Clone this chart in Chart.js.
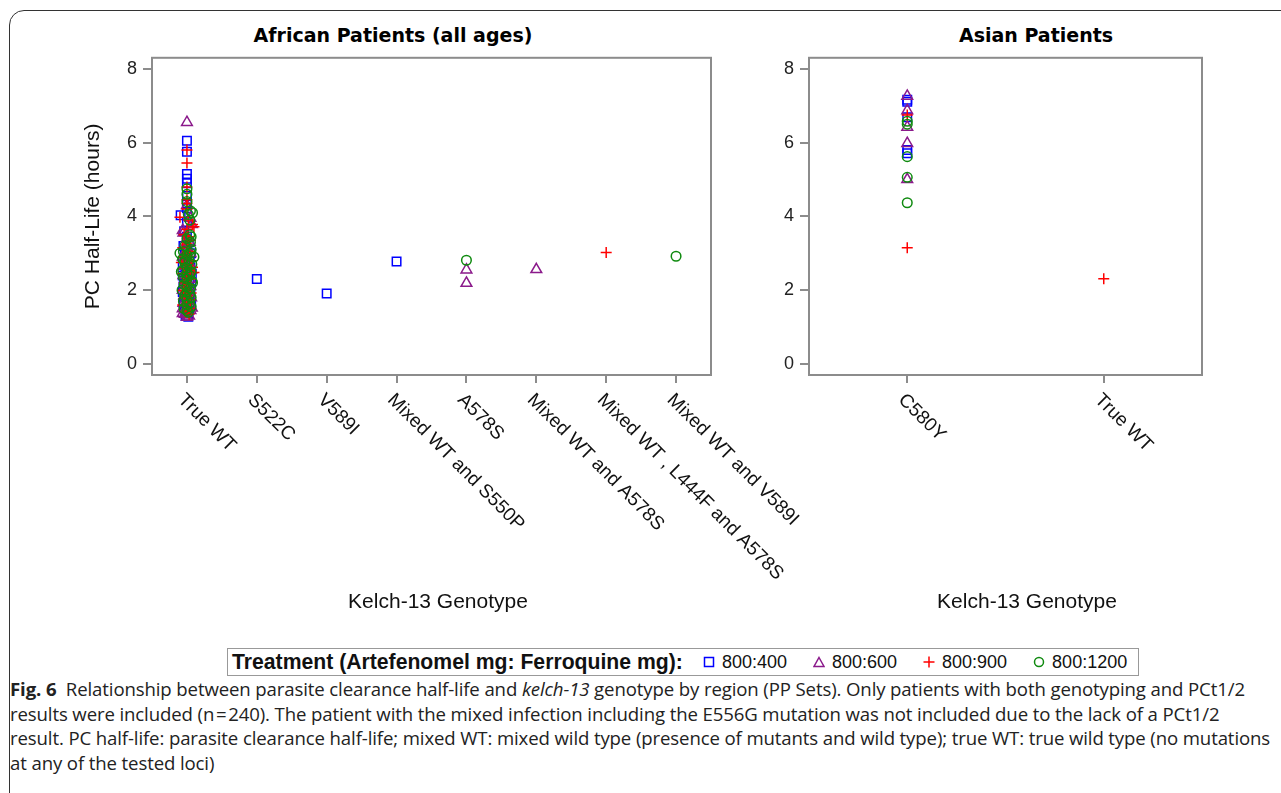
<!DOCTYPE html>
<html>
<head>
<meta charset="utf-8">
<script src="https://cdn.jsdelivr.net/npm/chart.js@4.4.1/dist/chart.umd.min.js"></script>
<style>
  body { margin: 0; width: 1281px; height: 793px; overflow: hidden; position: relative; background: #fff;
         font-family: "Liberation Sans", Arial, sans-serif; color: #111; }
  #box { position: absolute; left: 9px; top: 10px; width: 1320px; height: 840px; border: 1px solid #333; border-radius: 15px; }
  .ptitle { position: absolute; top: 24px; transform: translateX(-50%); white-space: nowrap;
            font-family: "DejaVu Sans", sans-serif; font-weight: 700; font-size: 19px; color: #000; }
  .xtitle { position: absolute; top: 589px; transform: translateX(-50%); white-space: nowrap; font-size: 21px; color: #111; }
  canvas { position: absolute; }
  #legend { position: absolute; left: 227px; top: 648px; width: 910px; height: 26px; border: 1.5px solid #999;
            display: flex; align-items: center; white-space: nowrap; font-size: 18px; }
  #legend b { font-size: 21.2px; margin-left: 4px; margin-right: 20px; }
  #legend svg { margin-right: 7px; }
  #legend span.item { margin-right: 26px; display: flex; align-items: center; }
  #caption { position: absolute; left: 10px; top: 677px; font-family: "Open Sans", sans-serif; font-size: 18.6px;
             line-height: 24.5px; color: #222; white-space: nowrap; letter-spacing: -0.12px; }
</style>
</head>
<body>
<div id="box"></div>
<div class="ptitle" style="left:393px">African Patients (all ages)</div>
<div class="ptitle" style="left:1036px">Asian Patients</div>
<canvas id="africa" width="740" height="569" style="left:60px; top:41px"></canvas>
<canvas id="asia" width="470" height="569" style="left:740px; top:41px"></canvas>
<div class="xtitle" style="left:438px">Kelch-13 Genotype</div>
<div class="xtitle" style="left:1027px">Kelch-13 Genotype</div>
<div id="legend"></div>
<div id="caption">
<b>Fig. 6</b>&nbsp; Relationship between parasite clearance half-life and <i>kelch-13</i> genotype by region (PP Sets). Only patients with both genotyping and PCt1/2<br>
results were included (n&#8202;=&#8202;240). The patient with the mixed infection including the E556G mutation was not included due to the lack of a PCt1/2<br>
result. PC half-life: parasite clearance half-life; mixed WT: mixed wild type (presence of mutants and wild type); true WT: true wild type (no mutations<br>
at any of the tested loci)
</div>
<script>
// categories
const africaGenotypes = ['True WT', 'S522C', 'V589I', 'Mixed WT and S550P', 'A578S',
    'Mixed WT and A578S', 'Mixed WT , L444F and A578S', 'Mixed WT and V589I'];
const asiaGenotypes = ['C580Y', 'True WT'];
const treatments = ['800:400', '800:600', '800:900', '800:1200'];
const yTicks = [0, 2, 4, 6, 8];

// [genotype index (with small jitter where points overlap), PC half-life in hours]
const africa400 = [[0,6.05],[0,5.75],[0,5.15],[0,5.02],[0,4.9],[0,4.55],[0,4.35],[0,4.22],[-0.09,4.03],[0,3.85],
    [-0.04,3.6],[0,3.45],[0.03,3.3],[-0.05,3.2],[0,3.1],[0.06,3.0],[-0.03,2.95],[0,2.85],[0.04,2.8],[-0.06,2.7],
    [0,2.65],[0.05,2.6],[-0.02,2.5],[0.07,2.45],[-0.06,2.4],[0,2.35],[0.03,2.3],[-0.04,2.25],[0.06,2.2],[0,2.15],
    [-0.05,2.1],[0.03,2.05],[0,2.0],[-0.06,1.95],[0.05,1.9],[0,1.85],[-0.03,1.8],[0.04,1.75],[0,1.7],[-0.05,1.65],
    [0.06,1.6],[0,1.55],[-0.03,1.5],[0.03,1.45],[0,1.38],[-0.02,1.3],[0.02,1.28],
    [1,2.30],[2,1.91],[3,2.78]];
const africa600 = [[0,6.55],[0,4.3],[0.05,3.95],[0.07,3.78],[-0.06,3.62],[-0.05,3.55],[0,3.4],[0.04,3.3],[-0.03,3.2],[0,3.1],
    [0.05,3.0],[-0.06,2.9],[0,2.8],[0.03,2.75],[-0.04,2.65],[0.06,2.55],[0,2.5],[-0.05,2.4],[0.04,2.3],[0,2.25],
    [-0.03,2.2],[0.05,2.1],[0,2.05],[-0.06,2.0],[0.03,1.95],[0,1.9],[-0.04,1.85],[0.06,1.8],[0,1.7],[-0.05,1.65],
    [0.04,1.6],[0,1.55],[-0.06,1.5],[0.05,1.45],[0,1.4],[-0.03,1.35],[0.03,1.3],[0,1.27],[-0.06,1.37],[0.07,1.52],
    [0.02,2.62],[-0.02,3.05],
    [4,2.55],[4,2.19],[5,2.56]];
const africa900 = [[0,5.8],[0,5.45],[0,4.8],[0,4.45],[0,4.35],[0,4.2],[-0.1,3.98],[0.02,3.9],[0.08,3.78],[0.1,3.72],
    [0,3.65],[-0.04,3.5],[0.05,3.35],[0,3.25],[-0.06,3.15],[0.04,3.05],[0,2.95],[-0.05,2.9],[0.06,2.8],[0,2.7],
    [-0.03,2.6],[0.04,2.55],[0.1,2.48],[-0.06,2.45],[0,2.35],[0.05,2.3],[-0.04,2.2],[0.03,2.15],[0,2.05],[-0.05,2.0],
    [0.06,1.92],[0,1.85],[-0.03,1.8],[0.04,1.75],[0,1.65],[-0.06,1.6],[0.05,1.5],[0,1.45],[-0.02,1.4],[0.03,1.35],
    [0.08,2.62],[-0.08,2.75],[0.02,3.45],[-0.02,1.95],
    [6,3.02]];
const africa1200 = [[0,4.75],[0,4.6],[0,4.4],[0.05,4.15],[0.08,4.1],[0.02,4.05],[0.04,3.9],[0.04,3.5],[0.06,3.45],[0,3.4],
    [0.05,3.3],[-0.03,3.2],[0.06,3.1],[-0.05,3.05],[-0.1,3.0],[0.05,3.0],[0,2.95],[0.1,2.9],[-0.06,2.85],[0.03,2.8],
    [-0.03,2.75],[0.07,2.7],[0,2.6],[-0.06,2.55],[-0.08,2.5],[0.06,2.5],[0,2.45],[0.04,2.4],[-0.05,2.35],[0,2.3],
    [0.07,2.25],[0.08,2.2],[-0.04,2.15],[0,2.1],[0.05,2.05],[-0.07,2.0],[0,1.95],[0.04,1.9],[-0.03,1.85],[0.06,1.8],
    [0,1.75],[-0.05,1.7],[0.04,1.65],[0,1.6],[0.06,1.55],[-0.04,1.5],[0,1.45],[0.02,1.4],
    [4,2.81],[7,2.92]];

const asia400 = [[0,7.16],[0,7.11],[0,6.69],[0,5.8],[0,5.71]];
const asia600 = [[0,7.26],[0,6.87],[0,6.42],[0,5.98],[0,5.0]];
const asia900 = [[0,6.75],[0,3.15],[1,2.31]];
const asia1200 = [[0,6.58],[0,6.5],[0,5.62],[0,5.06],[0,4.37]];

const colors = ['#0000ff', '#8b1a8b', '#ff0000', '#0f8a0f'];
const shapes = ['rect', 'triangle', 'cross', 'circle'];
const radii = [6, 6.2, 5.5, 4.8];
const drawOrder = [4, 3, 2, 1]; // lower = drawn on top

function toPoints(pairs) {
    return pairs.map(p => ({ x: p[0], y: p[1] }));
}

// draws the rotated genotype labels under each tick
const rotatedLabels = {
    id: 'rotatedLabels',
    afterDraw(chart, args, opts) {
        const ctx = chart.ctx;
        const xs = chart.scales.x;
        ctx.save();
        ctx.font = '19px "Liberation Sans", Arial, sans-serif';
        ctx.fillStyle = '#111';
        ctx.textAlign = 'left';
        ctx.textBaseline = 'middle';
        opts.labels.forEach((lab, i) => {
            ctx.save();
            ctx.translate(xs.getPixelForValue(i) - 6, chart.chartArea.bottom + 22);
            ctx.rotate(Math.PI / 4);
            ctx.fillText(lab, 0, 0);
            ctx.restore();
        });
        ctx.restore();
    }
};

const frameBox = {
    id: 'frameBox',
    beforeDatasetsDraw(chart) {
        const a = chart.chartArea;
        const ctx = chart.ctx;
        ctx.save();
        ctx.strokeStyle = '#8c8c8c';
        ctx.lineWidth = 2;
        ctx.strokeRect(a.left, a.top, a.right - a.left, a.bottom - a.top);
        ctx.restore();
    }
};

function makeChart(id, genotypes, series, yWidth, rightPad, withTitle) {
    const datasets = series.map((s, i) => ({
        label: treatments[i],
        data: toPoints(s),
        order: drawOrder[i],
        pointStyle: shapes[i],
        pointRadius: radii[i],
        pointHoverRadius: radii[i],
        borderColor: colors[i],
        backgroundColor: 'rgba(0,0,0,0)',
        pointBorderWidth: 1.5,
        showLine: false
    }));
    return new Chart(document.getElementById(id), {
        type: 'scatter',
        data: { datasets: datasets },
        options: {
            responsive: false,
            animation: false,
            layout: { padding: { top: 0, right: rightPad, left: 0, bottom: 0 } },
            plugins: {
                legend: { display: false },
                tooltip: { enabled: false },
                rotatedLabels: { labels: genotypes }
            },
            scales: {
                x: {
                    type: 'linear',
                    min: -0.5,
                    max: genotypes.length - 0.5,
                    afterBuildTicks: sc => { sc.ticks = genotypes.map((g, i) => ({ value: i })); },
                    afterFit: sc => { sc.height = 235; },
                    border: { display: false },
                    grid: { drawOnChartArea: false, drawTicks: true, tickLength: 8, color: '#8c8c8c', lineWidth: 2 },
                    ticks: { display: false }
                },
                y: {
                    min: -0.3,
                    max: 8.3,
                    afterBuildTicks: sc => { sc.ticks = yTicks.map(v => ({ value: v })); },
                    afterFit: sc => { sc.width = yWidth; },
                    border: { display: false },
                    grid: { drawOnChartArea: false, drawTicks: true, tickLength: 9, color: '#8c8c8c', lineWidth: 2 },
                    ticks: { padding: 6, color: '#222', font: { size: 18, family: '"Liberation Sans", Arial, sans-serif' } },
                    title: {
                        display: withTitle,
                        text: 'PC Half-Life (hours)',
                        color: '#111',
                        font: { size: 21, family: '"Liberation Sans", Arial, sans-serif' },
                        padding: { top: 21, bottom: 0 }
                    }
                }
            }
        },
        plugins: [frameBox, rotatedLabels]
    });
}

makeChart('africa', africaGenotypes, [africa400, africa600, africa900, africa1200], 92, 89, true);
makeChart('asia', asiaGenotypes, [asia400, asia600, asia900, asia1200], 69, 8, false);

// legend
const svgMarks = [
    '<svg width="12" height="12"><rect x="1.5" y="1.5" width="9" height="9" fill="none" stroke="#0000ff" stroke-width="1.5"/></svg>',
    '<svg width="12" height="12"><polygon points="6,1.5 11,10.5 1,10.5" fill="none" stroke="#8b1a8b" stroke-width="1.5"/></svg>',
    '<svg width="12" height="12"><path d="M6 0.5 V11.5 M0.5 6 H11.5" stroke="#ff0000" stroke-width="1.5"/></svg>',
    '<svg width="12" height="12"><circle cx="6" cy="6" r="4.5" fill="none" stroke="#0f8a0f" stroke-width="1.5"/></svg>'
];
let html = '<b>Treatment (Artefenomel mg: Ferroquine mg):</b>';
treatments.forEach((t, i) => {
    html += '<span class="item">' + svgMarks[i] + t + '</span>';
});
document.getElementById('legend').innerHTML = html;
</script>
</body>
</html>
